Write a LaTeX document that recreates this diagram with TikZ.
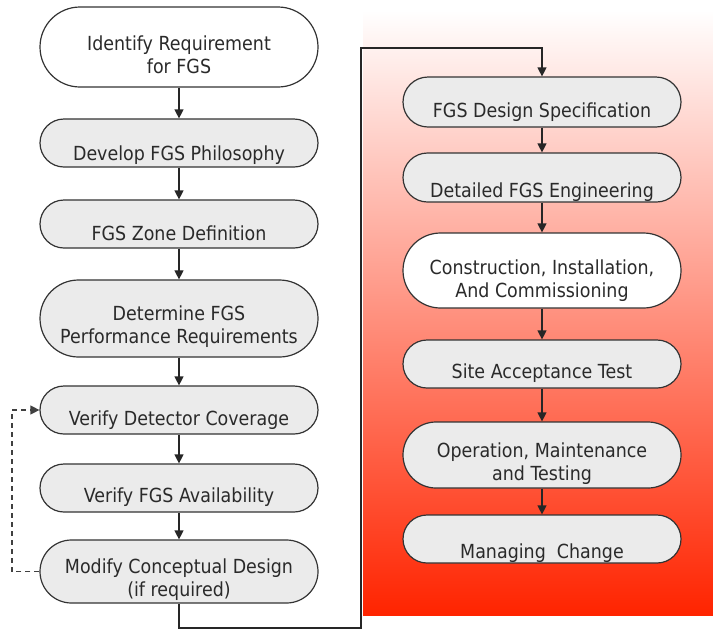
\documentclass[tikz,border=0pt]{standalone}
\usepackage{fontspec}
\setmainfont{DejaVu Sans}[FakeStretch=0.9]
\usetikzlibrary{shapes.misc,arrows.meta}
\definecolor{boxgray}{HTML}{EBEBEB}
\definecolor{edge}{HTML}{333333}
\definecolor{ink}{HTML}{2A2A2A}
\definecolor{deepred}{RGB}{255,36,0}

\begin{document}
\begin{tikzpicture}[x=1pt,y=-1pt,
  stadium/.style={rounded rectangle, draw=edge, line width=1.2pt, fill=boxgray,
    minimum width=278pt, inner sep=0pt},
  whitebox/.style={stadium, fill=white},
  txt/.style={font=\fontsize{19.4}{23}\selectfont, text=ink, align=center, inner sep=0pt},
  arr/.style={draw=black!85, line width=1.2pt, -{Triangle[length=9pt,width=9pt]}},
  loopback/.style={draw=black!75, line width=1.2pt, dashed, dash pattern=on 5pt off 4pt,
    -{Triangle[length=9pt,width=9pt]}}
]
\useasboundingbox (0,0) rectangle (713,630);

% red panel behind the second column
\shade[top color=white, bottom color=deepred] (363,10) rectangle (713,615);

% first column
\node[whitebox, minimum height=80pt] (n1) at (179,47) {};
\node[txt] (t1) at ([yshift=-8pt]n1.center) {Identify Requirement\\for FGS};
\node[stadium, minimum height=48pt] (n2) at (179,143) {};
\node[txt] (t2) at ([yshift=-12pt]n2.center) {Develop FGS Philosophy};
\node[stadium, minimum height=48pt] (n3) at (179,224) {};
\node[txt] (t3) at ([yshift=-9pt]n3.center) {FGS Zone Definition};
\node[stadium, minimum height=77pt] (n4) at (179,318.5) {};
\node[txt] (t4) at ([yshift=-8pt]n4.center) {Determine FGS\\Performance Requirements};
\node[stadium, minimum height=48pt] (n5) at (179,410) {};
\node[txt] (t5) at ([yshift=-10pt]n5.center) {Verify Detector Coverage};
\node[stadium, minimum height=48pt] (n6) at (179,488) {};
\node[txt] (t6) at ([yshift=-9pt]n6.center) {Verify FGS Availability};
\node[stadium, minimum height=63pt] (n7) at (179,571.5) {};
\node[txt] (t7) at ([yshift=-8pt]n7.center) {Modify Conceptual Design\\(if required)};

% second column
\node[stadium, minimum height=50pt] (n8) at (542,102) {};
\node[txt] (t8) at ([yshift=-10pt]n8.center) {FGS Design Specification};
\node[stadium, minimum height=49pt] (n9) at (542,177.5) {};
\node[txt] (t9) at ([yshift=-15pt]n9.center) {Detailed FGS Engineering};
\node[whitebox, minimum height=75pt] (n10) at (542,270.5) {};
\node[txt] (t10) at ([yshift=-10pt]n10.center) {Construction, Installation,\\And Commissioning};
\node[stadium, minimum height=48pt] (n11) at (542,364) {};
\node[txt] (t11) at ([yshift=-9pt]n11.center) {Site Acceptance Test};
\node[stadium, minimum height=66pt] (n12) at (542,455) {};
\node[txt] (t12) at ([yshift=-9pt]n12.center) {Operation, Maintenance\\and Testing};
\node[stadium, minimum height=48pt] (n13) at (542,539) {};
\node[txt] (t13) at ([yshift=-14pt]n13.center) {Managing\ \ Change};

% flow arrows
\foreach \a/\b in {n1/n2,n2/n3,n3/n4,n4/n5,n5/n6,n6/n7,
                   n8/n9,n9/n10,n10/n11,n11/n12,n12/n13}
  \draw[arr] (\a) -- (\b);

% link from the first column to the second
\coordinate (c1) at (179,628);
\coordinate (c2) at (361,628);
\coordinate (c3) at (361,48);
\coordinate (c4) at (542,48);
\draw[arr] (n7.south) -- (c1) -- (c2) -- (c3) -- (c4) -- (n8.north);

% iteration loop back to detector coverage
\coordinate (d1) at (12,571.5);
\coordinate (d2) at (12,410);
\draw[loopback] (n7.west) -- (d1) -- (d2) -- (n5.west);
\end{tikzpicture}
\end{document}
